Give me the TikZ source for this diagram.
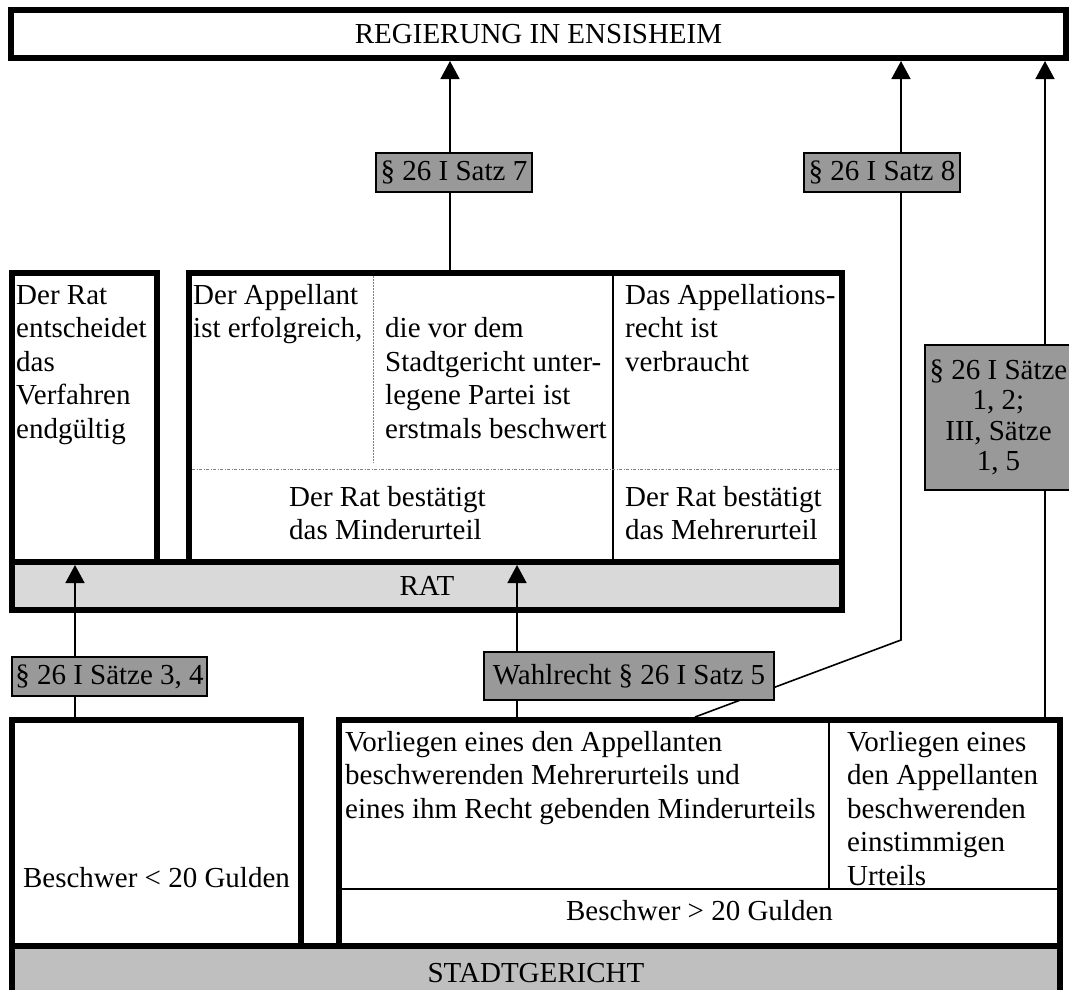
\documentclass[tikz,border=0pt]{standalone}
\usepackage{fontspec}
\setmainfont{Liberation Serif}
\usetikzlibrary{arrows.meta}
\newcommand\fz{\fontsize{29}{33.5}\selectfont}
\newcommand\fst{\rule{0pt}{24pt}}
\begin{document}
\begin{tikzpicture}[x=1pt,y=-1pt,
  tbox/.style={draw, line width=6pt, inner sep=0pt, font=\fz},
  lbl/.style={draw, line width=1.3pt, fill=black!40, inner sep=0pt, font=\fz, align=center},
  conn/.style={line width=1.6pt},
  arr/.style={-{Triangle[length=18pt,width=19pt]}},
  txt/.style={inner sep=0pt, font=\fz, align=left, anchor=north west},
  divider/.style={line width=1.5pt},
  dotv/.style={gray, line width=0.8pt, dash pattern=on 1.5pt off 1.5pt},
  doth/.style={gray, line width=0.8pt, dash pattern=on 3pt off 1.5pt on 1pt off 1.5pt},
]
\useasboundingbox (0,0) rectangle (1069,989);

% main boxes
\node[tbox, minimum width=1055pt, minimum height=48pt] (reg) at (538.5,34) {REGIERUNG IN ENSISHEIM};
\node[tbox, minimum width=145pt, minimum height=289pt] (ratL) at (84.5,417.5) {};
\node[tbox, minimum width=653pt, minimum height=289pt] (ratM) at (515.5,417.5) {};
\node[tbox, fill=black!15, minimum width=830pt, minimum height=48pt] (rat) at (427,586) {RAT};
\node[tbox, minimum width=289pt, minimum height=226pt] (bl) at (156.5,833) {};
\node[tbox, minimum width=721pt, minimum height=226pt] (br) at (699.5,833) {};
\node[tbox, fill=black!25, minimum width=1048pt, minimum height=54pt] (sg) at (536,973) {STADTGERICHT};

% internal dividers
\draw[divider] (613,273) -- (613,562);
\draw[dotv] (373,276) -- (373,463);
\draw[doth] (192,469) -- (839,469);
\draw[divider] (829,720) -- (829,889);
\draw[divider] (339,889) -- (1060,889);

% texts
\node[txt] (t1) at (16,280) {\fst Der Rat\\entscheidet\\das\\Verfahren\\endgültig};
\node[txt] (t2) at (193,280) {\fst Der Appellant\\ist erfolgreich,};
\node[txt] (t3) at (385,313.5) {\fst die vor dem\\Stadtgericht unter-\\legene Partei ist\\erstmals beschwert};
\node[txt] (t4) at (625,280) {\fst Das Appellations-\\recht ist\\verbraucht};
\node[txt] (t5) at (289,482) {\fst Der Rat bestätigt\\das Minderurteil};
\node[txt] (t6) at (625,482) {\fst Der Rat bestätigt\\das Mehrerurteil};
\node[txt] (t7) at (345,727) {\fst Vorliegen eines den Appellanten\\beschwerenden Mehrerurteils und\\eines ihm Recht gebenden Minderurteils};
\node[txt] (t8) at (847,727) {\fst Vorliegen eines\\den Appellanten\\beschwerenden\\einstimmigen\\Urteils};
\node[inner sep=0pt, font=\fz] (t9) at (156.5,878) {Beschwer < 20 Gulden};
\node[inner sep=0pt, font=\fz, anchor=base] (t10) at (699.5,920) {Beschwer > 20 Gulden};

% connectors
\coordinate (p7) at (450,270);
\draw[conn, arr] (p7) -- (p7 |- reg.south);
\coordinate (p8) at (695,0 |- br.north);
\coordinate (k8) at (901,640);
\draw[conn, arr] (p8) -- (k8) -- (k8 |- reg.south);
\coordinate (p12) at (1045,0 |- br.north);
\draw[conn, arr] (p12) -- (p12 |- reg.south);
\coordinate (p34) at (75,0 |- bl.north);
\coordinate (t34) at (75,565);
\draw[conn, arr] (p34) -- (t34);
\coordinate (pw) at (517,0 |- br.north);
\coordinate (tw) at (517,565);
\draw[conn, arr] (pw) -- (tw);

% labels
\node[lbl, minimum width=156pt, minimum height=39pt] (l7) at (454,172.5) {§ 26 I Satz 7};
\node[lbl, minimum width=156pt, minimum height=39pt] (l8) at (882,172.5) {§ 26 I Satz 8};
\node[lbl, minimum width=147pt, minimum height=145pt, font=\fontsize{29}{30.5}\selectfont] (l12) at (998.5,417.5) {§ 26 I Sätze\\1, 2;\\III, Sätze\\1, 5};
\node[lbl, minimum width=195pt, minimum height=39pt] (l34) at (109.5,676.5) {§ 26 I Sätze 3, 4};
\node[lbl, minimum width=290pt, minimum height=48pt] (lw) at (629,676) {Wahlrecht § 26 I Satz 5};
\end{tikzpicture}
\end{document}
